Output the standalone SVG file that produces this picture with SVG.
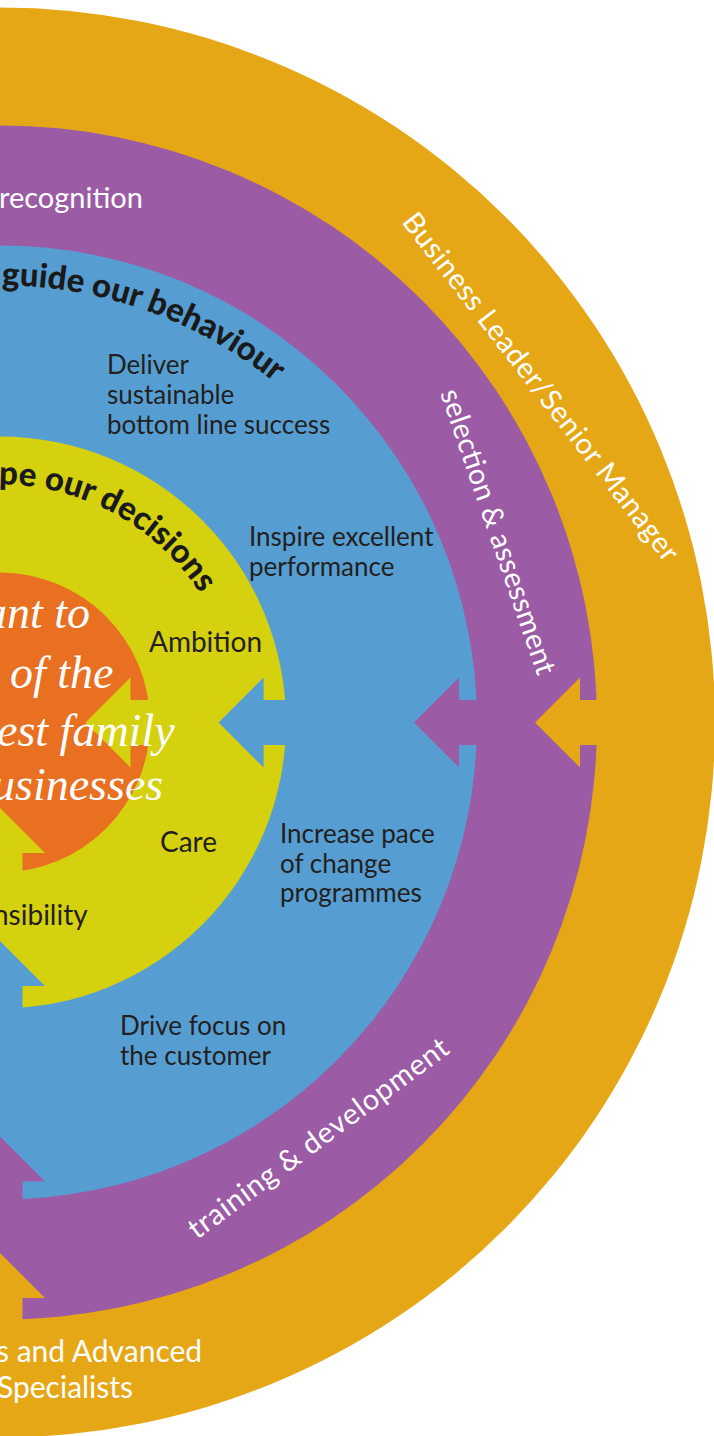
<svg xmlns="http://www.w3.org/2000/svg" width="714" height="1436" viewBox="0 0 714 1436">
<style>
.gold{fill:#E6A716}.purple{fill:#9B5BA5}.blue{fill:#569ED2}.lime{fill:#D5D10F}.core{fill:#E96F21}
.dark{font-family:Lato,"Liberation Sans",sans-serif;fill:#231F20;font-size:26px}
.val{font-family:Lato,"Liberation Sans",sans-serif;fill:#231F20;font-size:28px}
.white{font-family:Lato,"Liberation Sans",sans-serif;fill:#FFFFFF;font-size:29px}
.head{font-family:Lato,"Liberation Sans",sans-serif;fill:#1A1A1A;font-size:33px;font-weight:900}
.script{font-family:"Liberation Serif",serif;font-style:italic;fill:#FFFFFF;font-size:46px}
</style>
<defs>
<path id="arcBehaviour" d="M -75.88,292.14 A 437 437 0 0 1 437,722.5"/>
<path id="arcDecisions" d="M -81.4,498.85 A 238 238 0 0 1 238,722.5"/>
</defs>
<g id="ring-outer"><circle class="gold" cx="0" cy="722.5" r="715"/></g>
<g id="ring-purple"><circle class="purple" cx="0" cy="722.5" r="597"/></g>
<g id="ring-blue"><circle class="blue" cx="0" cy="722.5" r="477"/></g>
<g id="ring-yellow"><circle class="lime" cx="0" cy="722.5" r="286"/></g>
<g id="core"><circle class="core" cx="0" cy="722.5" r="150"/></g>
<g id="connectors">
<polygon class="gold" points="535,722.5 580,677.5 580,700 602,700 602,745 580,745 580,767.5"/>
<polygon class="gold" points="0,1253 45,1298 22.5,1298 22.5,1324 -22.5,1324 -22.5,1298 -45,1298"/>
<polygon class="purple" points="414,722.5 459,677.5 459,700 480,700 480,745 459,745 459,767.5"/>
<polygon class="purple" points="0,1136.5 45,1181.5 22.5,1181.5 22.5,1203 -22.5,1203 -22.5,1181.5 -45,1181.5"/>
<polygon class="blue" points="218.6,722.5 263.6,677.5 263.6,700 289,700 289,745 263.6,745 263.6,767.5"/>
<polygon class="blue" points="0,941 45,986 22.5,986 22.5,1011 -22.5,1011 -22.5,986 -45,986"/>
<polygon class="lime" points="85.5,722.5 130.5,677.5 130.5,700 153,700 153,745 130.5,745 130.5,767.5"/>
<polygon class="lime" points="0,808 45,853 22.5,853 22.5,875 -22.5,875 -22.5,853 -45,853"/>
</g>
<g id="label-outer">
<text class="white" transform="translate(401,222) rotate(52.3)" textLength="432" lengthAdjust="spacing">Business Leader/Senior Manager</text>
<text class="white" x="-4" y="1362" style="font-size:30px">s and Advanced</text>
<text class="white" x="-3" y="1398" style="font-size:30px">Specialists</text>
</g>
<g id="label-purple">
<text class="white" x="-1" y="208">recognition</text>
<text class="white" transform="translate(440,393) rotate(71)" textLength="300" lengthAdjust="spacing">selection &amp; assessment</text>
<text class="white" transform="translate(197,1240) rotate(-36.5)" textLength="316" lengthAdjust="spacing">training &amp; development</text>
</g>
<g id="label-blue">
<text class="head"><textPath href="#arcBehaviour" startOffset="78">guide our behaviour</textPath></text>
<text class="dark" x="107" y="373.5">Deliver</text>
<text class="dark" x="107" y="403.5">sustainable</text>
<text class="dark" x="107" y="433.5">bottom line success</text>
<text class="dark" x="249" y="546">Inspire excellent</text>
<text class="dark" x="249" y="576">performance</text>
<text class="dark" x="280" y="843">Increase pace</text>
<text class="dark" x="280" y="873">of change</text>
<text class="dark" x="280" y="902">programmes</text>
<text class="dark" x="120" y="1035">Drive focus on</text>
<text class="dark" x="120" y="1065">the customer</text>
</g>
<g id="label-yellow">
<text class="head"><textPath href="#arcDecisions" startOffset="82">pe our decisions</textPath></text>
<text class="val" x="149" y="652">Ambition</text>
<text class="val" x="160" y="852">Care</text>
<text class="val" x="-7" y="925">nsibility</text>
</g>
<g id="label-core">
<text class="script" x="-16" y="628">ant to</text>
<text class="script" x="10" y="688">of the</text>
<text class="script" x="-3" y="746">est family</text>
<text class="script" x="-8" y="800">usinesses</text>
</g>
</svg>
